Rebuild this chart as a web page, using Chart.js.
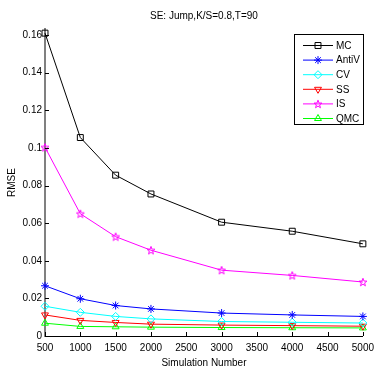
<!DOCTYPE html>
<html>
<head>
<meta charset="utf-8">
<script src="https://cdn.jsdelivr.net/npm/chart.js@4"></script>
<style>
  html, body { margin: 0; padding: 0; background: #fff; }
  #wrap { width: 380px; height: 371px; }
</style>
</head>
<body>
<div id="wrap"><canvas id="rmseChart"></canvas></div>
<script>
// simulation sizes and RMSE per method
const simNumbers = [500, 1000, 1500, 2000, 3000, 4000, 5000];
const mcVals    = [0.161, 0.1055, 0.0855, 0.0755, 0.0605, 0.0557, 0.0490];
const antiVVals = [0.0267, 0.0198, 0.0162, 0.0144, 0.0122, 0.0112, 0.0104];
const cvVals    = [0.0158, 0.0126, 0.0104, 0.0091, 0.0077, 0.0073, 0.0069];
const ssVals    = [0.0112, 0.0083, 0.0072, 0.0063, 0.0058, 0.0055, 0.0052];
const isVals    = [0.1003, 0.0650, 0.0528, 0.0456, 0.0350, 0.0322, 0.0287];
const qmcVals   = [0.0068, 0.0051, 0.0049, 0.0047, 0.0045, 0.0044, 0.0043];
const yTicks = [0, 0.02, 0.04, 0.06, 0.08, 0.1, 0.12, 0.14, 0.16];

const FONT = "'Liberation Sans', Arial, sans-serif";

// pentagram marker (matlab 'p')
function makePentagram(color) {
  const c = document.createElement('canvas');
  c.width = 10; c.height = 10;
  const g = c.getContext('2d');
  g.strokeStyle = color;
  g.lineWidth = 1;
  g.beginPath();
  for (let i = 0; i < 10; i++) {
    const r = i % 2 === 0 ? 4.2 : 1.7;
    const a = -Math.PI / 2 + i * Math.PI / 5;
    const px = 5 + r * Math.cos(a), py = 5.4 + r * Math.sin(a);
    if (i === 0) g.moveTo(px, py); else g.lineTo(px, py);
  }
  g.closePath();
  g.stroke();
  return c;
}

function series(label, vals, color, style, extra) {
  return Object.assign({
    label: label,
    data: simNumbers.map((x, i) => ({ x: x, y: vals[i] })),
    borderColor: color,
    backgroundColor: 'rgba(0,0,0,0)',
    pointBorderColor: color,
    pointBackgroundColor: 'rgba(0,0,0,0)',
    borderWidth: 1,
    pointBorderWidth: 1,
    pointStyle: style,
    pointRadius: 4,
    tension: 0,
    clip: false
  }, extra || {});
}

// legend box in the upper right of the plot
const boxLegend = {
  id: 'boxLegend',
  afterDraw(chart) {
    const ctx = chart.ctx;
    const x0 = 294, y0 = 34, w = 69, h = 90;
    ctx.save();
    ctx.fillStyle = '#fff';
    ctx.fillRect(x0, y0, w, h);
    ctx.strokeStyle = '#000';
    ctx.lineWidth = 1;
    ctx.strokeRect(x0 + 0.5, y0 + 0.5, w, h);
    ctx.font = '10px ' + FONT;
    ctx.textBaseline = 'middle';
    chart.data.datasets.forEach((ds, i) => {
      const y = 45.5 + i * 14.6;
      ctx.strokeStyle = ds.borderColor;
      ctx.lineWidth = 1;
      ctx.beginPath();
      ctx.moveTo(303, y);
      ctx.lineTo(333, y);
      ctx.stroke();
      ctx.fillStyle = 'rgba(0,0,0,0)';
      Chart.helpers.drawPoint(ctx, {
        pointStyle: ds.pointStyle,
        rotation: ds.pointRotation || 0,
        radius: ds.pointRadius,
        borderWidth: 1
      }, 318, y);
      ctx.fillStyle = '#000';
      ctx.fillText(ds.label, 336, y + 0.5);
    });
    ctx.restore();
  }
};

// short inward tick marks on both axes
const innerTicks = {
  id: 'innerTicks',
  afterDatasetsDraw(chart) {
    const ctx = chart.ctx;
    const xs = chart.scales.x, ys = chart.scales.y;
    ctx.save();
    ctx.strokeStyle = '#000';
    ctx.lineWidth = 1;
    ctx.beginPath();
    xs.ticks.forEach(t => {
      const px = Math.round(xs.getPixelForValue(t.value)) + 0.5;
      ctx.moveTo(px, ys.bottom);
      ctx.lineTo(px, ys.bottom - 4);
    });
    ys.ticks.forEach(t => {
      const py = Math.round(ys.getPixelForValue(t.value)) + 0.5;
      ctx.moveTo(xs.left, py);
      ctx.lineTo(xs.left + 4, py);
    });
    ctx.stroke();
    ctx.restore();
  }
};

new Chart(document.getElementById('rmseChart'), {
  type: 'line',
  data: {
    datasets: [
      series('MC', mcVals, '#000000', 'rect', { pointRadius: 4.2 }),
      series('AntiV', antiVVals, '#0000ff', 'star'),
      series('CV', cvVals, '#00ffff', 'rectRot'),
      series('SS', ssVals, '#ff0000', 'triangle', { pointRotation: 180 }),
      series('IS', isVals, '#ff00ff', makePentagram('#ff00ff')),
      series('QMC', qmcVals, '#00ff00', 'triangle')
    ]
  },
  options: {
    responsive: true,
    maintainAspectRatio: false,
    animation: false,
    events: [],
    layout: { padding: { top: 0, right: 12, left: 0, bottom: 0 } },
    plugins: {
      legend: { display: false },
      tooltip: { enabled: false },
      title: {
        display: true,
        text: 'SE: Jump,K/S=0.8,T=90',
        color: '#000',
        fullSize: false,
        font: { family: FONT, size: 10, weight: 'normal' },
        padding: { top: 10, bottom: 7 }
      }
    },
    scales: {
      x: {
        type: 'linear',
        min: 500,
        max: 5000,
        grid: { display: false, drawTicks: false, tickLength: 0 },
        border: { display: true, color: '#000', width: 1 },
        ticks: {
          stepSize: 500,
          color: '#000',
          padding: 6,
          maxRotation: 0,
          autoSkip: false,
          font: { family: FONT, size: 10 },
          callback: v => String(v)
        },
        title: {
          display: true,
          text: 'Simulation Number',
          color: '#000',
          font: { family: FONT, size: 10 },
          padding: { top: 0, bottom: 2 }
        },
        afterFit: s => { s.height = 35; }
      },
      y: {
        min: 0,
        max: 0.1632,
        grid: { display: false, drawTicks: false, tickLength: 0 },
        border: { display: true, color: '#808080', width: 2 },
        afterBuildTicks: s => { s.ticks = yTicks.map(v => ({ value: v })); },
        ticks: {
          color: '#000',
          padding: 3,
          includeBounds: false,
          font: { family: FONT, size: 10 },
          callback: v => String(+v.toFixed(2))
        },
        title: {
          display: true,
          text: 'RMSE',
          color: '#000',
          font: { family: FONT, size: 10 },
          padding: { top: 6, bottom: 0 }
        },
        afterFit: s => { s.width = 45; }
      }
    }
  },
  plugins: [innerTicks, boxLegend]
});
</script>
</body>
</html>
